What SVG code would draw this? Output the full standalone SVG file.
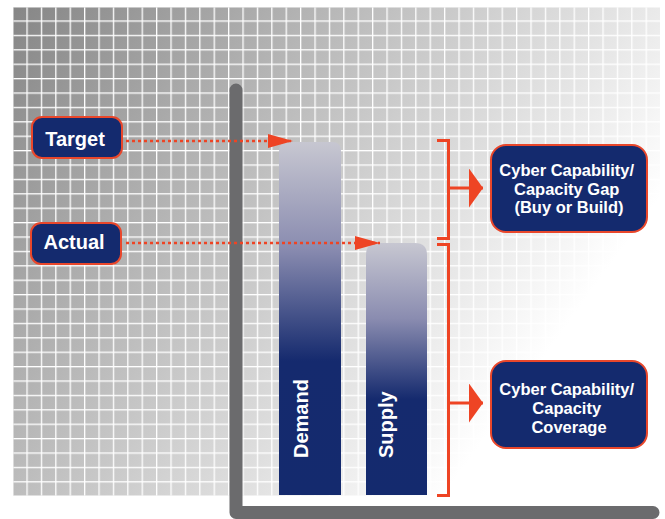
<svg xmlns="http://www.w3.org/2000/svg" width="665" height="519" viewBox="0 0 665 519">
  <defs>
    <style>
      .txt { font-family: "Liberation Sans", Arial, sans-serif; font-weight: bold; fill: #ffffff; }
      .box { fill: #142a6e; stroke: #e9472b; stroke-width: 2; }
      .dots { fill: none; stroke: #ee4424; stroke-width: 2.6; stroke-dasharray: 3 3; }
      .brace { fill: none; stroke: #ee4424; stroke-width: 3; }
      .axis { fill: none; stroke: #6b6b6d; stroke-width: 13; stroke-linecap: round; stroke-linejoin: round; }
    </style>
    <!-- background shading, dark at top-left fading to white toward bottom-right -->
    <linearGradient id="gridShade" gradientUnits="userSpaceOnUse" x1="13" y1="7" x2="527" y2="380">
      <stop offset="0" stop-color="#868686"/>
      <stop offset="1" stop-color="#ffffff"/>
    </linearGradient>
    <pattern id="gridLines" patternUnits="userSpaceOnUse" x="12" y="6" width="14.4" height="14.4">
      <rect x="0" y="0" width="14.4" height="1.3" fill="#ffffff"/>
      <rect x="0" y="0" width="1.3" height="14.4" fill="#ffffff"/>
    </pattern>
    <linearGradient id="barFill" x1="0" y1="0" x2="0" y2="1">
      <stop offset="0" stop-color="#c7c7d1"/>
      <stop offset="0.3" stop-color="#8a8cb0"/>
      <stop offset="0.62" stop-color="#152a6e"/>
      <stop offset="1" stop-color="#142a6e"/>
    </linearGradient>
    <marker id="dotHead" markerUnits="userSpaceOnUse" markerWidth="26" markerHeight="15" refX="25" refY="7" orient="auto">
      <path d="M0,0 L25,7 L0,14 Z" fill="#ee4424"/>
    </marker>
    <marker id="braceHead" markerUnits="userSpaceOnUse" markerWidth="15" markerHeight="40" refX="14" refY="19.5" orient="auto">
      <path d="M0,0 L14,19.5 L0,39 Z" fill="#ee4424"/>
    </marker>
  </defs>

  <!-- grid backdrop -->
  <rect x="13.3" y="7.3" width="646.7" height="488.4" fill="url(#gridShade)"/>
  <rect x="13.3" y="7.3" width="646.7" height="488.4" fill="url(#gridLines)"/>

  <!-- chart axes -->
  <path class="axis" d="M236,90 V512.5 H653"/>

  <!-- bars -->
  <g id="bar-demand">
    <path d="M279,495 V151 Q279,142 288,142 H332 Q341,142 341,151 V495 Z" fill="url(#barFill)"/>
    <text class="txt" font-size="20" transform="translate(308,458) rotate(-90)">Demand</text>
  </g>
  <g id="bar-supply">
    <path d="M366,495 V255 Q366,243 378,243 H415 Q427,243 427,255 V495 Z" fill="url(#barFill)"/>
    <text class="txt" font-size="20" transform="translate(393,458) rotate(-90)">Supply</text>
  </g>

  <!-- labels -->
  <g id="label-target">
    <rect class="box" x="32" y="117" width="90" height="41" rx="10"/>
    <text class="txt" font-size="20" x="75" y="146" text-anchor="middle">Target</text>
  </g>
  <g id="label-actual">
    <rect class="box" x="31" y="223" width="90" height="41" rx="10"/>
    <text class="txt" font-size="20" x="74" y="249" text-anchor="middle">Actual</text>
  </g>

  <g id="box-gap">
    <rect class="box" x="491" y="145" width="156" height="87" rx="15"/>
    <text class="txt" font-size="16.5" text-anchor="middle">
      <tspan x="569" y="176">Cyber Capability/</tspan>
      <tspan x="569" y="194.5">Capacity Gap</tspan>
      <tspan x="569" y="213">(Buy or Build)</tspan>
    </text>
  </g>
  <g id="box-coverage">
    <rect class="box" x="491" y="361" width="156" height="87" rx="15"/>
    <text class="txt" font-size="16.5" text-anchor="middle">
      <tspan x="569" y="395">Cyber Capability/</tspan>
      <tspan x="569" y="414">Capacity</tspan>
      <tspan x="569" y="433">Coverage</tspan>
    </text>
  </g>

  <!-- connectors -->
  <g id="connectors">
    <path class="dots" d="M126,141 H293" marker-end="url(#dotHead)"/>
    <path class="dots" d="M126,243 H380" marker-end="url(#dotHead)"/>
    <path class="brace" d="M437,140.5 H448.5 V238.5 H437"/>
    <path class="brace" d="M437,244.5 H448.5 V495.5 H437"/>
    <path class="brace" d="M448.5,188 H483" marker-end="url(#braceHead)"/>
    <path class="brace" d="M448.5,403 H483" marker-end="url(#braceHead)"/>
  </g>
</svg>
